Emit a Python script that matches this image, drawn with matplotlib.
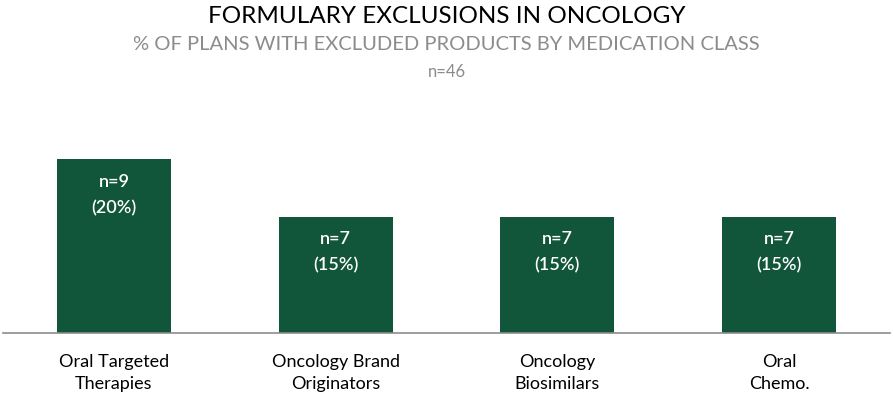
import matplotlib.pyplot as plt

# data
categories = ["Oral Targeted\nTherapies", "Oncology Brand\nOriginators",
              "Oncology\nBiosimilars", "Oral\nChemo."]
counts = [9, 7, 7, 7]
percents = [20, 15, 15, 15]

plt.rcParams['font.family'] = ['Lato', 'DejaVu Sans']

fig = plt.figure(figsize=(8.93, 3.98), dpi=100)
ax = fig.add_axes([0.0035, 0.1633, 0.993, 0.5854])

x = list(range(len(categories)))
ax.bar(x, percents, width=0.515, color='#11553b', bottom=0)

ax.set_xlim(-0.5, len(categories) - 0.5)
ax.set_ylim(4.8, 25.2)

for xi, n, p in zip(x, counts, percents):
    ax.text(xi, p - 1.3, f"n={n}\n({p}%)", ha='center', va='top',
            color='white', fontsize=13, fontweight='semibold', linespacing=1.75)

ax.set_xticks(x)
ax.set_xticklabels(categories, fontsize=13, linespacing=1.5)
ax.tick_params(axis='x', length=0, pad=15)
ax.set_yticks([])
for s in ['top', 'right', 'left']:
    ax.spines[s].set_visible(False)
ax.spines['bottom'].set_color('#8c8c8c')
ax.spines['bottom'].set_linewidth(1.2)

fig.text(0.5, 0.958, "FORMULARY EXCLUSIONS IN ONCOLOGY", ha='center', va='center',
         fontsize=17.5, color='black')
fig.text(0.5, 0.887, "% OF PLANS WITH EXCLUDED PRODUCTS BY MEDICATION CLASS",
         ha='center', va='center', fontsize=14.5, color='#8c8c8c')
fig.text(0.5, 0.819, "n=46", ha='center', va='center', fontsize=12, color='#8c8c8c')

fig.savefig('out.png', dpi=100)
